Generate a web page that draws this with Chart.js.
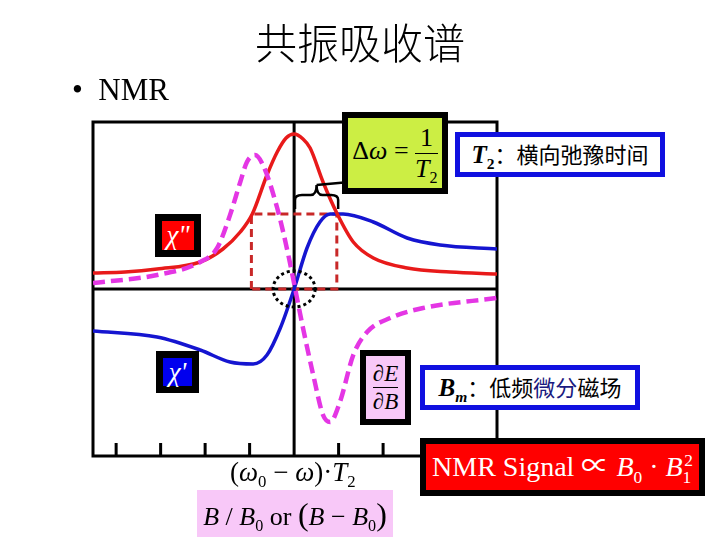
<!DOCTYPE html>
<html>
<head>
<meta charset="utf-8">
<script src="https://cdn.jsdelivr.net/npm/chart.js@4"></script>
<style>
  body { margin: 0; background: #fff; }
  #page { position: relative; width: 720px; height: 540px; overflow: hidden; }
  #chart { position: absolute; left: 0; top: 0; }
  .t { position: absolute; white-space: nowrap; line-height: 1; font-family: "Liberation Serif", "Noto Sans CJK SC", serif; color: #000; }
  .box { position: absolute; box-sizing: border-box; display: flex; align-items: center; justify-content: center;
         white-space: nowrap; line-height: 1; font-family: "Liberation Serif", "Noto Sans CJK SC", serif; }
  .frac { display: inline-flex; flex-direction: column; align-items: center; vertical-align: middle; }
  .frac .bar { align-self: stretch; border-top: 1.5px solid currentColor; margin: 2px 0; }
  sub, sup { font-size: 62%; line-height: 0; }
  .cjk { font-family: "Noto Sans CJK SC", sans-serif; }
</style>
</head>
<body>
<div id="page">
  <canvas id="chart" width="720" height="540"></canvas>

  <div class="t cjk" style="left:0;width:720px;top:20px;text-align:center;font-size:42px;font-weight:300">共振吸收谱</div>
  <div class="t" style="left:72px;top:74px;font-size:31px">•&nbsp; NMR</div>

  <div class="box" style="left:342px;top:112px;width:106px;height:82px;border:6px solid #000;background:#ccee44;font-size:26px">
    <span>Δ<i>ω</i>&nbsp;=&nbsp;<span class="frac"><span>1</span><span class="bar"></span><span><i>T</i><sub>2</sub></span></span></span>
  </div>
  <div class="box" style="left:455px;top:132px;width:210px;height:45px;border:5px solid #1010e0;background:#fff;font-size:25px">
    <span><b><i>T</i><sub>2</sub></b><span class="cjk" style="font-size:22px">：横向弛豫时间</span></span>
  </div>

  <div class="box" style="left:155px;top:214px;width:46px;height:43px;border:7px solid #000;background:#f00;color:#fff;font-size:27px;font-style:italic"><span>χ"</span></div>
  <div class="box" style="left:156px;top:351px;width:43px;height:42px;border:7px solid #000;background:#0000ee;color:#fff;font-size:27px;font-style:italic"><span>χ'</span></div>

  <div class="box" style="left:360px;top:350px;width:51px;height:75px;border:6px solid #000;background:#f8c8f8;font-size:23px">
    <span class="frac"><span>∂<i>E</i></span><span class="bar"></span><span>∂<i>B</i></span></span>
  </div>
  <div class="box" style="left:420px;top:365px;width:220px;height:45px;border:5px solid #1010e0;background:#fff;font-size:25px">
    <span><b><i>B</i><sub><i>m</i></sub></b><span class="cjk" style="font-size:22px">：低频<span style="color:#1a1a80">微分</span>磁场</span></span>
  </div>
  <div class="box" style="left:420px;top:438px;width:285px;height:58px;border:6px solid #000;background:#f00;color:#fff;font-size:28px">
    <span>NMR Signal ∝ <i>B</i><sub>0</sub> · <i>B</i><sub>1</sub><sup style="margin-left:-7px">2</sup></span>
  </div>

  <div class="t" style="left:230px;top:459px;font-size:27px">(<i>ω</i><sub>0</sub> − <i>ω</i>)·<i>T</i><sub>2</sub></div>
  <div class="box" style="left:197px;top:490px;width:196px;height:47px;background:#f8c8f8;font-size:26px">
    <span><i>B</i>&nbsp;/&nbsp;<i>B</i><sub>0</sub>&nbsp;or&nbsp;<span style="font-size:32px">(</span><i>B</i>&nbsp;−&nbsp;<i>B</i><sub>0</sub><span style="font-size:32px">)</span></span>
  </div>
</div>

<script>
// (ω0 - ω)·T2 in tick units, signal in arbitrary units
const absorptionX = [-4.52, -3.80, -3.08, -2.11, -1.60, -1.21, -0.94, -0.61, -0.38, -0.18, 0, 0.20, 0.36, 0.65, 0.97, 1.33, 1.78, 2.54, 3.51, 4.56]
const absorptionY = [0.16, 0.17, 0.20, 0.27, 0.40, 0.57, 0.75, 1.14, 1.37, 1.51, 1.55, 1.50, 1.41, 1.07, 0.75, 0.47, 0.31, 0.21, 0.17, 0.15]

const dispersionX = [-4.52, -3.08, -2.11, -1.44, -0.92, -0.61, -0.31, 0, 0.29, 0.58, 0.81, 1.10, 1.78, 2.54, 3.28, 4.56]
const dispersionY = [-0.42, -0.48, -0.61, -0.73, -0.75, -0.66, -0.39, 0, 0.41, 0.67, 0.75, 0.75, 0.67, 0.51, 0.44, 0.40]

const derivativeX = [-4.52, -3.08, -2.11, -1.73, -1.44, -1.21, -1.06, -0.88, -0.70, -0.38, -0.13, 0.02, 0.20, 0.43, 0.65, 0.81, 1.03, 1.33, 1.64, 2.16, 2.90, 4.56]
const derivativeY = [0.06, 0.14, 0.27, 0.41, 0.74, 1.07, 1.27, 1.34, 1.24, 0.81, 0.34, 0.01, -0.39, -0.86, -1.26, -1.33, -1.13, -0.66, -0.43, -0.29, -0.19, -0.09]

const halfWidthX = [-0.96, -0.96, 0.96, 0.96, -0.96]
const halfWidthY = [0, 0.75, 0.75, 0, 0]

const tickValues = [-4, -3, -2, -1, 1, 2, 3, 4]

const toPoints = (xs, ys) => xs.map((x, i) => ({ x, y: ys[i] }))

const decor = {
  id: 'decor',
  beforeDatasetsDraw(chart) {
    const { ctx, chartArea: a, scales: { x, y } } = chart
    const x0 = x.getPixelForValue(0)
    const y0 = y.getPixelForValue(0)
    ctx.save()
    ctx.strokeStyle = '#000'
    ctx.lineWidth = 3
    ctx.strokeRect(a.left, a.top, a.right - a.left, a.bottom - a.top)
    ctx.beginPath()
    ctx.moveTo(a.left, y0); ctx.lineTo(a.right, y0)
    ctx.moveTo(x0, a.top); ctx.lineTo(x0, a.bottom)
    tickValues.forEach(v => {
      const px = x.getPixelForValue(v)
      ctx.moveTo(px, a.bottom); ctx.lineTo(px, a.bottom - 13)
    })
    ctx.stroke()
    ctx.restore()
  },
  afterDatasetsDraw(chart) {
    const { ctx, scales: { x, y } } = chart
    const x0 = x.getPixelForValue(0)
    const y0 = y.getPixelForValue(0)
    ctx.save()
    // dotted circle at resonance
    ctx.strokeStyle = '#000'
    ctx.lineWidth = 3
    ctx.setLineDash([3, 3])
    ctx.beginPath()
    ctx.ellipse(x0, y0, 21, 18, 0, 0, Math.PI * 2)
    ctx.stroke()
    ctx.setLineDash([])

    // brace over half width
    const l = x.getPixelForValue(0.02), r = x.getPixelForValue(0.99), m = (l + r) / 2
    const yb = y.getPixelForValue(0.80), yh = y.getPixelForValue(0.94), yt = y.getPixelForValue(1.04)
    ctx.lineWidth = 2.5
    ctx.beginPath()
    ctx.moveTo(l, yb); ctx.lineTo(l, yh + 5)
    ctx.quadraticCurveTo(l, yh, l + 7, yh)
    ctx.lineTo(m - 6, yh)
    ctx.quadraticCurveTo(m, yh, m, yt)
    ctx.quadraticCurveTo(m, yh, m + 6, yh)
    ctx.lineTo(r - 7, yh)
    ctx.quadraticCurveTo(r, yh, r, yh + 5)
    ctx.lineTo(r, yb)
    ctx.stroke()

    // arrow to Δω box
    const ax = x.getPixelForValue(1.75), ay = y.getPixelForValue(1.09)
    ctx.beginPath()
    ctx.moveTo(m, yt); ctx.lineTo(ax - 6, ay + 0.6)
    ctx.stroke()
    const ang = Math.atan2(ay - yt, ax - m)
    ctx.beginPath()
    ctx.moveTo(ax, ay)
    ctx.lineTo(ax - 9 * Math.cos(ang) + 4 * Math.sin(ang), ay - 9 * Math.sin(ang) - 4 * Math.cos(ang))
    ctx.lineTo(ax - 9 * Math.cos(ang) - 4 * Math.sin(ang), ay - 9 * Math.sin(ang) + 4 * Math.cos(ang))
    ctx.closePath()
    ctx.fillStyle = '#000'
    ctx.fill()
    ctx.restore()
  }
}

new Chart(document.querySelector('#chart'), {
  type: 'scatter',
  data: {
    datasets: [
      {
        label: "dE/dB",
        data: toPoints(derivativeX, derivativeY),
        showLine: true,
        borderColor: '#e436e4',
        borderWidth: 4.5,
        borderDash: [12, 6],
        cubicInterpolationMode: 'monotone',
        pointRadius: 0,
        order: 0
      },
      {
        label: 'χ"',
        data: toPoints(absorptionX, absorptionY),
        showLine: true,
        borderColor: '#e81a1a',
        borderWidth: 3.5,
        cubicInterpolationMode: 'monotone',
        pointRadius: 0,
        order: 1
      },
      {
        label: "χ'",
        data: toPoints(dispersionX, dispersionY),
        showLine: true,
        borderColor: '#1515d0',
        borderWidth: 3.5,
        cubicInterpolationMode: 'monotone',
        pointRadius: 0,
        order: 2
      },
      {
        label: 'half width',
        data: toPoints(halfWidthX, halfWidthY),
        showLine: true,
        borderColor: '#c82828',
        borderWidth: 3,
        borderDash: [8, 5],
        tension: 0,
        pointRadius: 0,
        order: 3
      }
    ]
  },
  options: {
    responsive: false,
    animation: false,
    devicePixelRatio: 1,
    layout: { padding: { left: 93, right: 223, top: 122, bottom: 84 } },
    scales: {
      x: { type: 'linear', min: -4.52, max: 4.56, display: false },
      y: { type: 'linear', min: -1.67, max: 1.67, display: false }
    },
    plugins: {
      legend: { display: false },
      tooltip: { enabled: false }
    }
  },
  plugins: [decor]
})
</script>
</body>
</html>
